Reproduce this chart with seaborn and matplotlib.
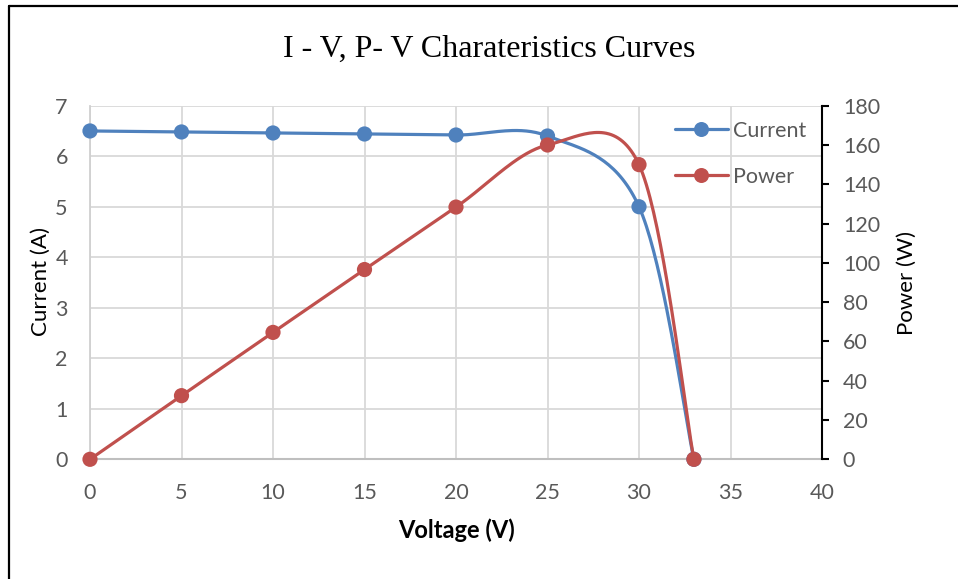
import numpy as np
import pandas as pd
import matplotlib
matplotlib.use("Agg")
import matplotlib.pyplot as plt
from matplotlib.lines import Line2D
import seaborn as sns

# ---- data ----
voltage = [0, 5, 10, 15, 20, 25, 30, 33]
current = [6.5, 6.48, 6.46, 6.44, 6.42, 6.4, 5.0, 0.0]
power = [0, 32.4, 64.6, 96.6, 128.4, 160.0, 150.0, 0.0]
x_ticks = [0, 5, 10, 15, 20, 25, 30, 35, 40]
left_ticks = [0, 1, 2, 3, 4, 5, 6, 7]
right_ticks = [0, 20, 40, 60, 80, 100, 120, 140, 160, 180]

title = "I - V, P- V Charateristics Curves"
xlabel = "Voltage (V)"
ylabel_left = "Current (A)"
ylabel_right = "Power (W)"

BLUE = "#4f81bd"
RED = "#c0504d"
TICK_C = "#595959"
FS = 15.5

sns.set_theme(style="white")
plt.rcParams["font.family"] = ["Lato", "DejaVu Sans"]


def smooth(xs, ys, n=40):
    """Excel-like smoothed line (Catmull-Rom Bezier) through the data points."""
    pts = np.column_stack([xs, ys]).astype(float)
    out = []
    for i in range(len(pts) - 1):
        p0 = pts[i - 1] if i > 0 else pts[i]
        p1 = pts[i]
        p2 = pts[i + 1]
        p3 = pts[i + 2] if i + 2 < len(pts) else pts[i + 1]
        c1 = p1 + (p2 - p0) / 6.0
        c2 = p2 - (p3 - p1) / 6.0
        t = np.linspace(0, 1, n)[:, None]
        seg = (1 - t) ** 3 * p1 + 3 * (1 - t) ** 2 * t * c1 + 3 * (1 - t) * t ** 2 * c2 + t ** 3 * p2
        out.append(seg if i == 0 else seg[1:])
    return np.vstack(out)


df = pd.DataFrame({"Voltage": voltage, "Current": current, "Power": power})

fig = plt.figure(figsize=(9.58, 5.79), dpi=100)
ax = fig.add_axes([90 / 958, 1 - 459.3 / 579, (822 - 90) / 958, (459.3 - 105.7) / 579])
ax2 = ax.twinx()

# current
sc = smooth(df["Voltage"], df["Current"])
ax.plot(sc[:, 0], sc[:, 1], color=BLUE, lw=2.3, solid_capstyle="round", zorder=3, clip_on=False)
sns.scatterplot(data=df, x="Voltage", y="Current", ax=ax, color=BLUE, s=120,
                linewidth=0, edgecolor="none", zorder=4, legend=False)

# power
sp = smooth(df["Voltage"], df["Power"])
ax2.plot(sp[:, 0], sp[:, 1], color=RED, lw=2.3, solid_capstyle="round", zorder=3, clip_on=False)
sns.scatterplot(data=df, x="Voltage", y="Power", ax=ax2, color=RED, s=120,
                linewidth=0, edgecolor="none", zorder=4, legend=False)

for a in (ax, ax2):
    for coll in a.collections:
        coll.set_clip_on(False)

ax.set_xlim(0, 40)
ax.set_ylim(0, 7)
ax2.set_ylim(0, 180)
ax.set_xticks(x_ticks)
ax.set_yticks(left_ticks)
ax2.set_yticks(right_ticks)

ax.grid(True, color="#d9d9d9", lw=1.3)
ax2.grid(False)
ax.set_axisbelow(True)

for s in ["top", "right"]:
    ax.spines[s].set_visible(False)
ax.spines["left"].set_color("#d0d0d0")
ax.spines["left"].set_linewidth(1.3)
ax.spines["bottom"].set_color("#bfbfbf")
ax.spines["bottom"].set_linewidth(1.5)
for s in ["top", "left", "bottom"]:
    ax2.spines[s].set_visible(False)
ax2.spines["right"].set_color("black")
ax2.spines["right"].set_linewidth(1.5)

ax.tick_params(axis="x", length=0, pad=17, labelsize=FS, labelcolor=TICK_C)
ax.tick_params(axis="y", length=0, pad=16, labelsize=FS, labelcolor=TICK_C)
ax2.tick_params(axis="y", direction="out", length=5, width=1.5, color="black",
                pad=10, labelsize=FS, labelcolor=TICK_C)

ax.set_xlabel("")
ax.set_ylabel("")
ax2.set_ylabel("")
fig.text(456 / 958, 1 - 530 / 579, xlabel, ha="center", va="center",
         fontsize=17, fontweight="bold", color="black")
fig.text(41 / 958, 1 - 282 / 579, ylabel_left, ha="center", va="center",
         rotation=90, fontsize=16, color="black")
fig.text(907 / 958, 1 - 283 / 579, ylabel_right, ha="center", va="center",
         rotation=90, fontsize=16, color="black")
fig.text(489 / 958, 1 - 49 / 579, title, ha="center", va="center",
         fontsize=23, family=["Liberation Serif", "DejaVu Serif"], color="black")

handles = [Line2D([], [], color=BLUE, lw=2.3, marker="o", markersize=10.8, markeredgewidth=0),
           Line2D([], [], color=RED, lw=2.3, marker="o", markersize=10.8, markeredgewidth=0)]
leg = fig.legend(handles, ["Current", "Power"], loc="upper left",
                 bbox_to_anchor=(675 / 958, 1 - 121 / 579), frameon=False,
                 fontsize=FS, handlelength=2.45, handletextpad=0.25,
                 labelspacing=1.2, borderpad=0, borderaxespad=0)
for t in leg.get_texts():
    t.set_color(TICK_C)

# chart-area border (top and left visible)
fig.add_artist(Line2D([9 / 958, 1.0], [1 - 6 / 579, 1 - 6 / 579], color="black", lw=1.6,
                      transform=fig.transFigure))
fig.add_artist(Line2D([9 / 958, 9 / 958], [1 - 6 / 579, 0.0], color="black", lw=1.6,
                      transform=fig.transFigure))

fig.savefig("out.png", dpi=100)
